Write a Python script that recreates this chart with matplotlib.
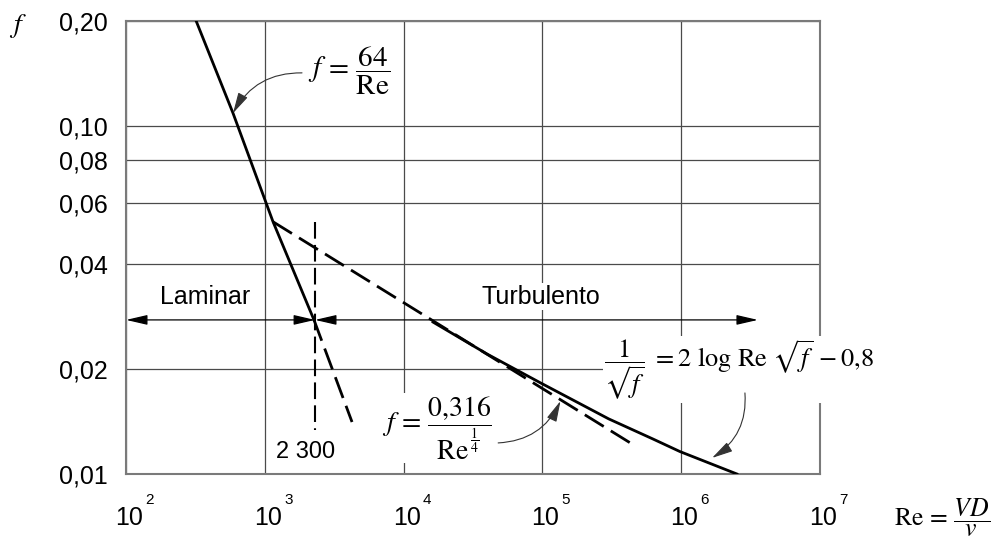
import matplotlib
matplotlib.use("Agg")
import matplotlib.pyplot as plt
from matplotlib.transforms import ScaledTranslation, offset_copy

plt.rcParams["font.family"] = ["Liberation Sans", "DejaVu Sans"]
plt.rcParams["mathtext.fontset"] = "stix"

# valores (Re, f)
lam_re = [320, 590, 1146, 2260]          # laminar, f = 64/Re (trecho cheio)
lam_f = [0.200, 0.1087, 0.0530, 0.0277]
lam_ext_re = [2260, 4250]                 # prolongamento tracejado
lam_ext_f = [0.0277, 0.0141]
blas_re = [1146, 472000]                  # Blasius, tracejado
blas_f = [0.0530, 0.0120]
pr_re = [16300, 40000, 96100, 300000, 627000, 979000, 2520000]   # Prandtl
pr_f = [0.0273, 0.0221, 0.0183, 0.0144, 0.0126, 0.0116, 0.0100]
re_crit = 2300
crit_f = [0.0530, 0.0134]
regime_f = 0.0277
regime_re = [100, 2300, 3.57e6]

x_ticks = [1e2, 1e3, 1e4, 1e5, 1e6, 1e7]
x_exps = ["2", "3", "4", "5", "6", "7"]
y_ticks = [0.01, 0.02, 0.04, 0.06, 0.08, 0.10, 0.20]
y_labels = ["0,01", "0,02", "0,04", "0,06", "0,08", "0,10", "0,20"]

fig = plt.figure(figsize=(9.98, 5.42), dpi=100)
ax = fig.add_axes([0.1263, 0.1255, 0.6953, 0.8358])
ax.set_xscale("log")
ax.set_yscale("log")
ax.set_xlim(1e2, 1e7)
ax.set_ylim(0.01, 0.20)

ax.minorticks_off()
ax.set_xticks(x_ticks)
ax.set_xticklabels(["10"] * len(x_ticks))
ax.set_yticks(y_ticks)
ax.set_yticklabels(y_labels)
ax.tick_params(length=0)
ax.tick_params(axis="y", pad=13, labelsize=18)
ax.tick_params(axis="x", pad=23, labelsize=18)
shift = ScaledTranslation(3 / 100, 0, fig.dpi_scale_trans)
for lab in ax.get_xticklabels():
    lab.set_transform(lab.get_transform() + shift)
# expoentes das potências de 10
sup_tr = offset_copy(ax.get_xaxis_transform(), fig=fig, x=17, y=-19, units="points")
for xt, e in zip(x_ticks, x_exps):
    ax.text(xt, 0, e, transform=sup_tr, fontsize=11, ha="center", va="center", clip_on=False)

ax.grid(True, which="major", color="#4a4a4a", lw=0.9)
for s in ax.spines.values():
    s.set_color("#7a7a7a")
    s.set_linewidth(1.5)

# curvas
ax.plot(lam_re, lam_f, color="k", lw=2.0, zorder=5)
ax.plot(lam_ext_re, lam_ext_f, color="k", lw=2.0, dashes=(8, 3), zorder=5)
ax.plot(blas_re, blas_f, color="k", lw=2.0, dashes=(8, 3), zorder=5)
ax.plot(pr_re, pr_f, color="k", lw=2.0, zorder=5)
ax.plot([re_crit, re_crit], crit_f, color="k", lw=1.5, dashes=(8, 3), zorder=5)

# setas de regime
arrow = dict(arrowstyle="<|-|>,head_length=1.3,head_width=0.3", color="k",
             lw=0.9, shrinkA=0, shrinkB=0, mutation_scale=10)
ax.annotate("", xy=(regime_re[0], regime_f), xytext=(regime_re[1], regime_f),
            arrowprops=arrow, zorder=6)
ax.annotate("", xy=(regime_re[2], regime_f), xytext=(regime_re[1], regime_f),
            arrowprops=arrow, zorder=6)

box = dict(facecolor="white", edgecolor="none", pad=1)
ax.text(370, 0.0323, "Laminar", fontsize=18, ha="center", va="center", bbox=box, zorder=4)
ax.text(9.77e4, 0.0323, "Turbulento", fontsize=18, ha="center", va="center", bbox=box, zorder=4)
ax.text(1950, 0.01157, "2 300", fontsize=17, ha="center", va="center", zorder=4)

ax.text(4050, 0.1439, r"$f\,=\,\dfrac{64}{\mathrm{Re}}$", fontsize=21,
        ha="center", va="center", bbox=box, zorder=4)
ax.text(2.6e6, 0.0199, r"$\dfrac{1}{\sqrt{f}}\ = 2\ \mathrm{log}\ \mathrm{Re}\ \sqrt{f}\, - 0{,}8$",
        fontsize=19, ha="center", va="center", bbox=box, zorder=4)
ax.text(1.75e4, 0.01356, r"$f\,=\,\dfrac{0{,}316}{\mathrm{Re}^{\,{}^{\dfrac{1}{4}}}}$", fontsize=20,
        ha="center", va="center", bbox=box, zorder=4)

thin = dict(arrowstyle="-|>,head_length=0.8,head_width=0.2", color="#333333", lw=0.8,
            shrinkA=0, shrinkB=0, mutation_scale=16)
ax.annotate("", xy=(590, 0.1087), xytext=(1853, 0.1419),
            arrowprops=dict(thin, connectionstyle="arc3,rad=0.3"), zorder=6)
ax.annotate("", xy=(1.67e6, 0.01112), xytext=(2.88e6, 0.01709),
            arrowprops=dict(thin, connectionstyle="arc3,rad=-0.3"), zorder=6)
ax.annotate("", xy=(1.35e5, 0.0162), xytext=(4.8e4, 0.01228),
            arrowprops=dict(thin, connectionstyle="arc3,rad=0.3"), zorder=6)

# rótulos dos eixos
fig.text(0.018, 0.952, "$f$", fontsize=20, ha="center", va="center")
fig.text(0.944, 0.044, r"$\mathrm{Re}\,=\,\dfrac{VD}{v}$", fontsize=18.5,
         ha="center", va="center")

fig.savefig("out.png", dpi=100)
